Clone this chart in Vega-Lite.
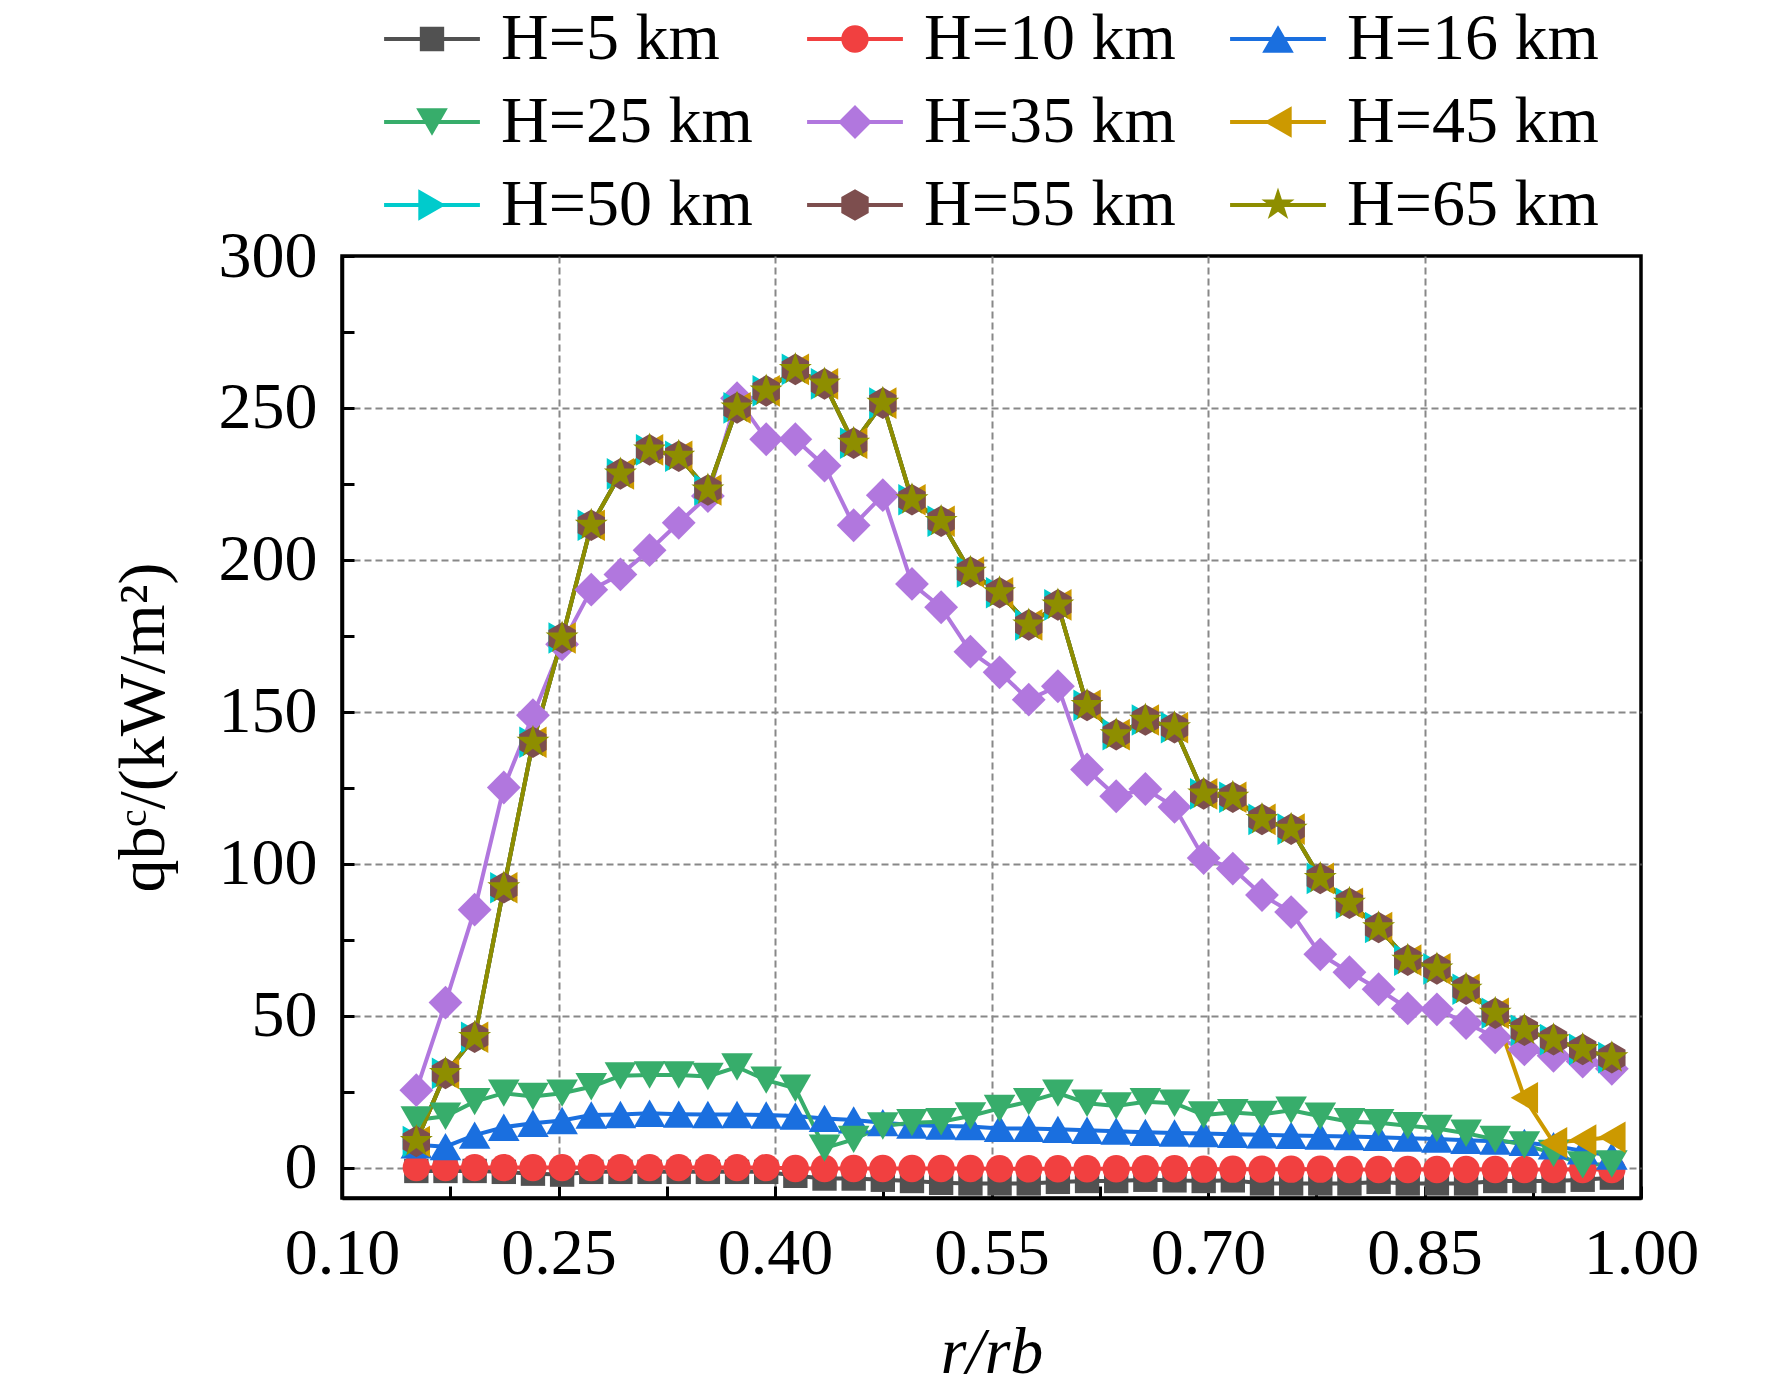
{
  "$schema": "https://vega.github.io/schema/vega-lite/v6.json",
  "width": 1299,
  "height": 942,
  "autosize": "none",
  "padding": {"left": 342, "top": 256, "right": 131, "bottom": 191},
  "background": "white",
  "config": {
    "view": {"stroke": "black", "strokeWidth": 3.5},
    "font": "Liberation Serif",
    "axis": {
      "labelFont": "Liberation Serif", "labelFontSize": 66, "labelColor": "black",
      "titleFont": "Liberation Serif", "titleFontSize": 66, "titleColor": "black", "titleFontWeight": "normal",
      "domainColor": "black", "domainWidth": 3.5,
      "tickColor": "black", "tickWidth": 3, "tickSize": -12,
      "gridColor": "#888888", "gridDash": [7, 4], "gridWidth": 2,
      "labelFlush": false, "labelOverlap": false
    }
  },
  "data": {"values": [
    {"r": 0.1515, "H5": -1.1, "H10": 0, "H16": 7.5, "H25": 15.7, "H35": 25.5, "H45": 8.6, "H50": 8.6, "H55": 8.6, "H65": 8.6},
    {"r": 0.1717, "H5": -1.1, "H10": 0, "H16": 6.9, "H25": 16.9, "H35": 54.3, "H45": 31.0, "H50": 31.0, "H55": 31.0, "H65": 31.0},
    {"r": 0.1919, "H5": -1.1, "H10": 0, "H16": 10.7, "H25": 21.7, "H35": 84.9, "H45": 42.9, "H50": 42.9, "H55": 42.9, "H65": 42.9},
    {"r": 0.2121, "H5": -1.4, "H10": 0, "H16": 13.3, "H25": 24.5, "H35": 125.1, "H45": 92.1, "H50": 92.1, "H55": 92.1, "H65": 92.1},
    {"r": 0.2323, "H5": -2.0, "H10": 0, "H16": 14.6, "H25": 23.4, "H35": 148.9, "H45": 140.0, "H50": 140.0, "H55": 140.0, "H65": 140.0},
    {"r": 0.2525, "H5": -2.3, "H10": 0, "H16": 15.5, "H25": 24.5, "H35": 172.2, "H45": 174.3, "H50": 174.3, "H55": 174.3, "H65": 174.3},
    {"r": 0.2727, "H5": -1.4, "H10": 0, "H16": 17.3, "H25": 26.6, "H35": 190.2, "H45": 211.4, "H50": 211.4, "H55": 211.4, "H65": 211.4},
    {"r": 0.2929, "H5": -1.4, "H10": 0, "H16": 17.5, "H25": 30.2, "H35": 195.2, "H45": 228.3, "H50": 228.3, "H55": 228.3, "H65": 228.3},
    {"r": 0.3131, "H5": -1.4, "H10": 0, "H16": 17.9, "H25": 30.5, "H35": 203.2, "H45": 236.2, "H50": 236.2, "H55": 236.2, "H65": 236.2},
    {"r": 0.3333, "H5": -1.4, "H10": 0, "H16": 17.6, "H25": 30.5, "H35": 212.2, "H45": 234.1, "H50": 234.1, "H55": 234.1, "H65": 234.1},
    {"r": 0.3535, "H5": -1.4, "H10": 0, "H16": 17.5, "H25": 30.0, "H35": 221.0, "H45": 223.0, "H50": 223.0, "H55": 223.0, "H65": 223.0},
    {"r": 0.3737, "H5": -1.4, "H10": 0, "H16": 17.5, "H25": 33.1, "H35": 253.2, "H45": 250.0, "H50": 250.0, "H55": 250.0, "H65": 250.0},
    {"r": 0.3939, "H5": -1.4, "H10": 0, "H16": 17.3, "H25": 28.8, "H35": 239.7, "H45": 255.6, "H50": 255.6, "H55": 255.6, "H65": 255.6},
    {"r": 0.4141, "H5": -2.7, "H10": -0.3, "H16": 17.0, "H25": 26.1, "H35": 239.7, "H45": 262.7, "H50": 262.7, "H55": 262.7, "H65": 262.7},
    {"r": 0.4343, "H5": -3.6, "H10": -0.3, "H16": 16.2, "H25": 6.4, "H35": 231.0, "H45": 257.9, "H50": 257.9, "H55": 257.9, "H65": 257.9},
    {"r": 0.4545, "H5": -3.6, "H10": -0.3, "H16": 15.7, "H25": 9.3, "H35": 211.4, "H45": 238.4, "H50": 238.4, "H55": 238.4, "H65": 238.4},
    {"r": 0.4747, "H5": -4.0, "H10": -0.3, "H16": 14.8, "H25": 13.7, "H35": 221.3, "H45": 251.6, "H50": 251.6, "H55": 251.6, "H65": 251.6},
    {"r": 0.4949, "H5": -4.4, "H10": -0.3, "H16": 14.0, "H25": 14.8, "H35": 192.1, "H45": 219.8, "H50": 219.8, "H55": 219.8, "H65": 219.8},
    {"r": 0.5151, "H5": -5.0, "H10": -0.3, "H16": 13.7, "H25": 15.1, "H35": 184.4, "H45": 212.7, "H50": 212.7, "H55": 212.7, "H65": 212.7},
    {"r": 0.5354, "H5": -5.2, "H10": -0.3, "H16": 13.5, "H25": 17.0, "H35": 169.8, "H45": 196.0, "H50": 196.0, "H55": 196.0, "H65": 196.0},
    {"r": 0.5556, "H5": -5.2, "H10": -0.4, "H16": 12.9, "H25": 19.5, "H35": 163.0, "H45": 189.2, "H50": 189.2, "H55": 189.2, "H65": 189.2},
    {"r": 0.5758, "H5": -5.2, "H10": -0.4, "H16": 12.9, "H25": 21.7, "H35": 154.0, "H45": 178.6, "H50": 178.6, "H55": 178.6, "H65": 178.6},
    {"r": 0.5960, "H5": -4.7, "H10": -0.4, "H16": 12.6, "H25": 24.5, "H35": 158.4, "H45": 185.2, "H50": 185.2, "H55": 185.2, "H65": 185.2},
    {"r": 0.6162, "H5": -4.4, "H10": -0.4, "H16": 12.3, "H25": 21.2, "H35": 131.0, "H45": 152.1, "H50": 152.1, "H55": 152.1, "H65": 152.1},
    {"r": 0.6364, "H5": -4.4, "H10": -0.4, "H16": 12.0, "H25": 20.3, "H35": 122.2, "H45": 142.5, "H50": 142.5, "H55": 142.5, "H65": 142.5},
    {"r": 0.6566, "H5": -4.0, "H10": -0.4, "H16": 11.6, "H25": 21.7, "H35": 124.6, "H45": 147.3, "H50": 147.3, "H55": 147.3, "H65": 147.3},
    {"r": 0.6768, "H5": -4.2, "H10": -0.4, "H16": 11.4, "H25": 21.2, "H35": 118.7, "H45": 144.8, "H50": 144.8, "H55": 144.8, "H65": 144.8},
    {"r": 0.6970, "H5": -4.4, "H10": -0.5, "H16": 11.2, "H25": 17.3, "H35": 101.9, "H45": 123.0, "H50": 123.0, "H55": 123.0, "H65": 123.0},
    {"r": 0.7172, "H5": -4.2, "H10": -0.5, "H16": 11.0, "H25": 18.1, "H35": 98.4, "H45": 121.9, "H50": 121.9, "H55": 121.9, "H65": 121.9},
    {"r": 0.7374, "H5": -5.2, "H10": -0.5, "H16": 10.8, "H25": 17.5, "H35": 89.7, "H45": 114.6, "H50": 114.6, "H55": 114.6, "H65": 114.6},
    {"r": 0.7576, "H5": -5.2, "H10": -0.5, "H16": 10.6, "H25": 18.9, "H35": 84.1, "H45": 111.4, "H50": 111.4, "H55": 111.4, "H65": 111.4},
    {"r": 0.7778, "H5": -5.2, "H10": -0.5, "H16": 10.4, "H25": 16.9, "H35": 70.2, "H45": 95.2, "H50": 95.2, "H55": 95.2, "H65": 95.2},
    {"r": 0.7980, "H5": -5.2, "H10": -0.6, "H16": 10.2, "H25": 15.1, "H35": 64.3, "H45": 87.0, "H50": 87.0, "H55": 87.0, "H65": 87.0},
    {"r": 0.8182, "H5": -4.7, "H10": -0.6, "H16": 10.0, "H25": 14.8, "H35": 58.7, "H45": 79.0, "H50": 79.0, "H55": 79.0, "H65": 79.0},
    {"r": 0.8384, "H5": -5.2, "H10": -0.6, "H16": 9.7, "H25": 13.8, "H35": 52.4, "H45": 68.3, "H50": 68.3, "H55": 68.3, "H65": 68.3},
    {"r": 0.8586, "H5": -5.2, "H10": -0.6, "H16": 9.4, "H25": 12.9, "H35": 52.1, "H45": 65.4, "H50": 65.4, "H55": 65.4, "H65": 65.4},
    {"r": 0.8788, "H5": -5.2, "H10": -0.6, "H16": 9.0, "H25": 11.3, "H35": 47.6, "H45": 58.7, "H50": 58.7, "H55": 58.7, "H65": 58.7},
    {"r": 0.8990, "H5": -4.4, "H10": -0.6, "H16": 8.7, "H25": 9.3, "H35": 42.9, "H45": 50.8, "H50": 50.8, "H55": 50.8, "H65": 50.8},
    {"r": 0.9192, "H5": -4.4, "H10": -0.6, "H16": 8.3, "H25": 7.5, "H35": 38.9, "H45": 23.0, "H50": 45.2, "H55": 45.2, "H65": 45.2},
    {"r": 0.9394, "H5": -4.4, "H10": -0.6, "H16": 7.2, "H25": 4.7, "H35": 36.8, "H45": 8.2, "H50": 42.1, "H55": 42.1, "H65": 42.1},
    {"r": 0.9596, "H5": -4.0, "H10": -0.6, "H16": 5.5, "H25": 0.9, "H35": 34.9, "H45": 9.1, "H50": 38.9, "H55": 38.9, "H65": 38.9},
    {"r": 0.9798, "H5": -3.3, "H10": -0.6, "H16": 3.8, "H25": 1.2, "H35": 32.5, "H45": 10.0, "H50": 36.2, "H55": 36.2, "H65": 36.2}
  ]},
  "transform": [
    {"fold": ["H5", "H10", "H16", "H25", "H35", "H45", "H50", "H55", "H65"], "as": ["H", "q"]}
  ],
  "encoding": {
    "x": {
      "field": "r", "type": "quantitative",
      "scale": {"domain": [0.1, 1.0], "nice": false, "zero": false},
      "axis": {
        "title": "r/rb", "titleFontStyle": "italic",
        "values": [0.1, 0.175, 0.25, 0.325, 0.4, 0.475, 0.55, 0.625, 0.7, 0.775, 0.85, 0.925, 1.0],
        "labelExpr": "round(datum.value*1000) % 150 === 100 ? format(datum.value, '.2f') : ''",
        "gridOpacity": {"condition": {"test": "round(datum.value*1000) % 150 === 100 && datum.value > 0.11 && datum.value < 0.99", "value": 1}, "value": 0},
        "labelBaseline": "alphabetic", "labelPadding": 87,
        "titleX": 649.5, "titleY": 174, "titleBaseline": "alphabetic", "titleAlign": "center"
      }
    },
    "y": {
      "field": "q", "type": "quantitative",
      "scale": {"domain": [-10, 300], "nice": false, "zero": false},
      "axis": {
        "title": "qbᶜ/(kW/m²)",
        "values": [0, 25, 50, 75, 100, 125, 150, 175, 200, 225, 250, 275, 300],
        "labelExpr": "datum.value % 50 === 0 ? datum.label : ''",
        "gridOpacity": {"condition": {"test": "datum.value % 50 === 0 && datum.value < 299", "value": 1}, "value": 0},
        "labelPadding": 37,
        "titleAngle": 270, "titleX": -179, "titleY": 471, "titleBaseline": "alphabetic", "titleAlign": "center"
      }
    }
  },
  "layer": [
    {
      "mark": {"type": "line", "strokeWidth": 4},
      "encoding": {
        "color": {
          "field": "H", "type": "nominal",
          "scale": {"domain": ["H5", "H10", "H16", "H25", "H35", "H45", "H50", "H55", "H65"], "range": ["#515151", "#F14040", "#1A6FDF", "#37AD6B", "#B177DE", "#CC9900", "#00CBCC", "#7D4E4E", "#8E8E00"]},
          "legend": {
            "title": null, "orient": "none", "legendX": 42, "legendY": -250, "columns": 3, "direction": "horizontal",
            "columnPadding": 54, "rowPadding": 17, "symbolSize": 1000, "symbolStrokeWidth": 0,
            "symbolOffset": 15, "labelOffset": 36, "labelFont": "Liberation Serif", "labelFontSize": 66,
            "labelColor": "black", "labelLimit": 0,
            "labelExpr": "'H=' + slice(datum.label, 1) + ' km'",
            "encode": {"symbols": {"update": {
              "shape": {"signal": "datum.value === 'H5' ? 'M-3.03,-0.12L3.03,-0.12L3.03,0.12L-3.03,0.12ZM-0.77,-0.77L0.77,-0.77L0.77,0.77L-0.77,0.77Z' : datum.value === 'H10' ? 'M-3.03,-0.12L3.03,-0.12L3.03,0.12L-3.03,0.12ZM-0.867,0A0.867,0.867,0,1,1,0.867,0A0.867,0.867,0,1,1,-0.867,0Z' : datum.value === 'H16' ? 'M-3.03,-0.12L3.03,-0.12L3.03,0.12L-3.03,0.12ZM0,-0.866L1,0.866L-1,0.866Z' : datum.value === 'H25' ? 'M-3.03,-0.12L3.03,-0.12L3.03,0.12L-3.03,0.12ZM-1,-0.866L1,-0.866L0,0.866Z' : datum.value === 'H35' ? 'M-3.03,-0.12L3.03,-0.12L3.03,0.12L-3.03,0.12ZM0,-1.07L1.07,0L0,1.07L-1.07,0Z' : datum.value === 'H45' ? 'M-3.03,-0.12L3.03,-0.12L3.03,0.12L-3.03,0.12ZM-0.866,0L0.866,-1L0.866,1Z' : datum.value === 'H50' ? 'M-3.03,-0.12L3.03,-0.12L3.03,0.12L-3.03,0.12ZM0.866,0L-0.866,1L-0.866,-1Z' : datum.value === 'H55' ? 'M-3.03,-0.12L3.03,-0.12L3.03,0.12L-3.03,0.12ZM0,-1L0.866,-0.5L0.866,0.5L0,1L-0.866,0.5L-0.866,-0.5Z' : 'M-3.03,-0.12L3.03,-0.12L3.03,0.12L-3.03,0.12ZM0,-1.1L0.247,-0.34L1.046,-0.34L0.399,0.13L0.647,0.89L0,0.42L-0.647,0.89L-0.399,0.13L-1.046,-0.34L-0.247,-0.34Z'"},
              "fill": {"scale": "color", "field": "value"},
              "strokeWidth": {"value": 0},
              "opacity": {"value": 1}
            }}}
          }
        }
      }
    },
    {
      "mark": {"type": "point", "filled": true, "size": 1000, "opacity": 1, "strokeWidth": 0},
      "encoding": {
        "color": {
          "field": "H", "type": "nominal",
          "scale": {"domain": ["H5", "H10", "H16", "H25", "H35", "H45", "H50", "H55", "H65"], "range": ["#515151", "#F14040", "#1A6FDF", "#37AD6B", "#B177DE", "#CC9900", "#00CBCC", "#7D4E4E", "#8E8E00"]},
          "legend": {
            "title": null, "orient": "none", "legendX": 42, "legendY": -250, "columns": 3, "direction": "horizontal",
            "columnPadding": 54, "rowPadding": 17, "symbolSize": 1000, "symbolStrokeWidth": 0,
            "symbolOffset": 15, "labelOffset": 36, "labelFont": "Liberation Serif", "labelFontSize": 66,
            "labelColor": "black", "labelLimit": 0,
            "labelExpr": "'H=' + slice(datum.label, 1) + ' km'",
            "encode": {"symbols": {"update": {
              "shape": {"signal": "datum.value === 'H5' ? 'M-3.03,-0.12L3.03,-0.12L3.03,0.12L-3.03,0.12ZM-0.77,-0.77L0.77,-0.77L0.77,0.77L-0.77,0.77Z' : datum.value === 'H10' ? 'M-3.03,-0.12L3.03,-0.12L3.03,0.12L-3.03,0.12ZM-0.867,0A0.867,0.867,0,1,1,0.867,0A0.867,0.867,0,1,1,-0.867,0Z' : datum.value === 'H16' ? 'M-3.03,-0.12L3.03,-0.12L3.03,0.12L-3.03,0.12ZM0,-0.866L1,0.866L-1,0.866Z' : datum.value === 'H25' ? 'M-3.03,-0.12L3.03,-0.12L3.03,0.12L-3.03,0.12ZM-1,-0.866L1,-0.866L0,0.866Z' : datum.value === 'H35' ? 'M-3.03,-0.12L3.03,-0.12L3.03,0.12L-3.03,0.12ZM0,-1.07L1.07,0L0,1.07L-1.07,0Z' : datum.value === 'H45' ? 'M-3.03,-0.12L3.03,-0.12L3.03,0.12L-3.03,0.12ZM-0.866,0L0.866,-1L0.866,1Z' : datum.value === 'H50' ? 'M-3.03,-0.12L3.03,-0.12L3.03,0.12L-3.03,0.12ZM0.866,0L-0.866,1L-0.866,-1Z' : datum.value === 'H55' ? 'M-3.03,-0.12L3.03,-0.12L3.03,0.12L-3.03,0.12ZM0,-1L0.866,-0.5L0.866,0.5L0,1L-0.866,0.5L-0.866,-0.5Z' : 'M-3.03,-0.12L3.03,-0.12L3.03,0.12L-3.03,0.12ZM0,-1.1L0.247,-0.34L1.046,-0.34L0.399,0.13L0.647,0.89L0,0.42L-0.647,0.89L-0.399,0.13L-1.046,-0.34L-0.247,-0.34Z'"},
              "fill": {"scale": "color", "field": "value"},
              "strokeWidth": {"value": 0},
              "opacity": {"value": 1}
            }}}
          }
        },
        "shape": {
          "field": "H", "type": "nominal",
          "scale": {"domain": ["H5", "H10", "H16", "H25", "H35", "H45", "H50", "H55", "H65", "none"], "range": [
            "M-0.77,-0.77L0.77,-0.77L0.77,0.77L-0.77,0.77Z",
            "M-0.867,0A0.867,0.867,0,1,1,0.867,0A0.867,0.867,0,1,1,-0.867,0Z",
            "M0,-0.866L1,0.866L-1,0.866Z",
            "M-1,-0.866L1,-0.866L0,0.866Z",
            "M0,-1.07L1.07,0L0,1.07L-1.07,0Z",
            "M-0.866,0L0.866,-1L0.866,1Z",
            "M0.866,0L-0.866,1L-0.866,-1Z",
            "M0,-1L0.866,-0.5L0.866,0.5L0,1L-0.866,0.5L-0.866,-0.5Z",
            "M0,-1.1L0.247,-0.34L1.046,-0.34L0.399,0.13L0.647,0.89L0,0.42L-0.647,0.89L-0.399,0.13L-1.046,-0.34L-0.247,-0.34Z",
            "circle"
          ]},
          "legend": null
        }
      }
    }
  ]
}
